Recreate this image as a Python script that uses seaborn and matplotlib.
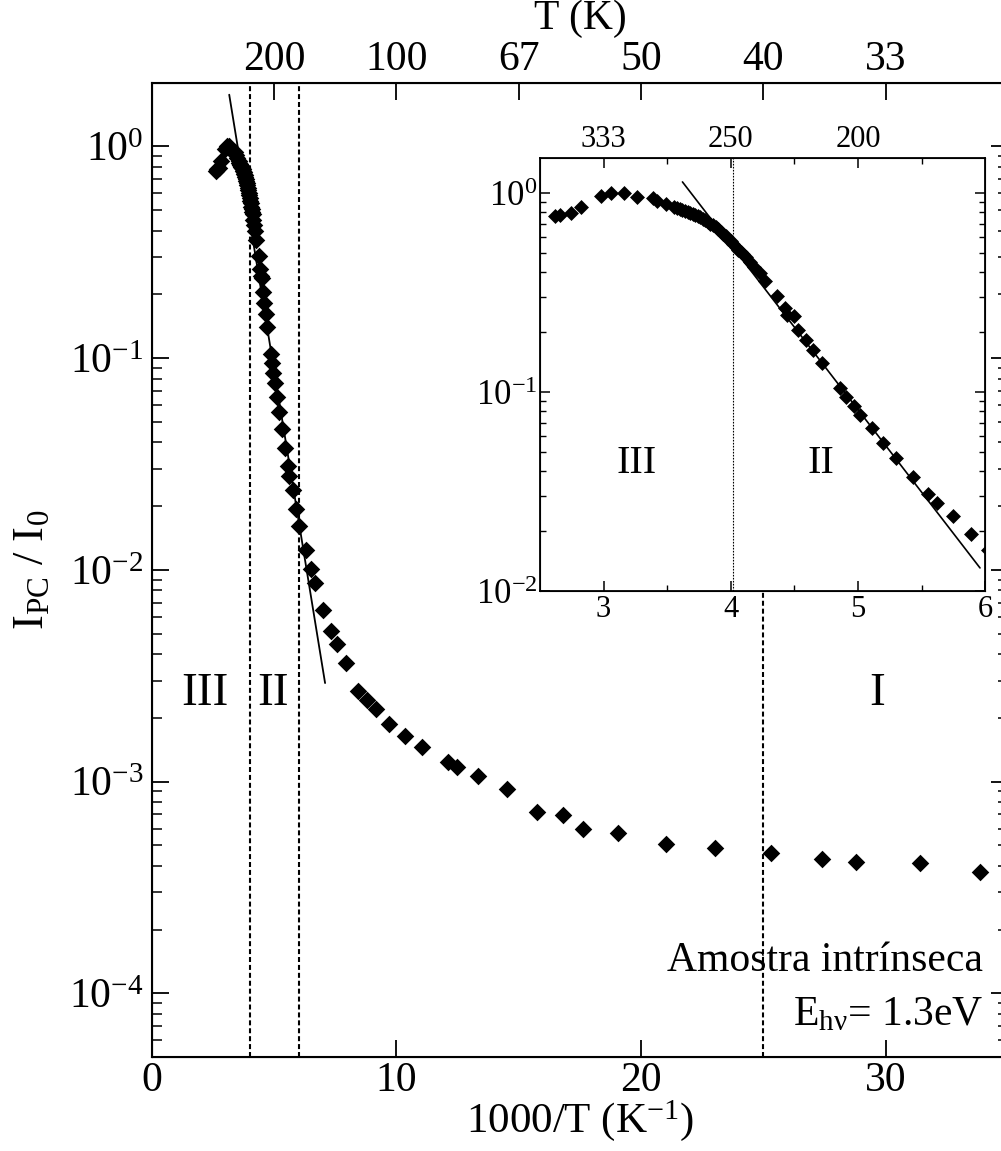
import numpy as np
import pandas as pd
import matplotlib
matplotlib.use("Agg")
import matplotlib.pyplot as plt
import seaborn as sns
from matplotlib.ticker import LogLocator, NullFormatter, FixedLocator, FixedFormatter

sns.set_style("ticks")
plt.rcParams["font.family"] = ["Liberation Serif", "DejaVu Serif"]
plt.rcParams["mathtext.fontset"] = "custom"
plt.rcParams["mathtext.rm"] = "Liberation Serif"
plt.rcParams["mathtext.it"] = "Liberation Serif:italic"
plt.rcParams["mathtext.default"] = "regular"
for key in ["text.color", "axes.labelcolor", "axes.edgecolor", "xtick.color", "ytick.color"]:
    plt.rcParams[key] = "black"

# Photocurrent vs inverse temperature (1000/T in K^-1), normalised to I_0
inv_temp = [
    2.62, 2.66, 2.74, 2.82, 2.98, 3.06, 3.16, 3.26, 3.39, 3.42, 3.49,
    3.55, 3.58, 3.60, 3.62, 3.64, 3.66, 3.68, 3.70, 3.72, 3.74, 3.76,
    3.78, 3.80, 3.82, 3.84, 3.86, 3.88, 3.90, 3.92, 3.94, 3.96, 3.98,
    4.00, 4.02, 4.04, 4.06, 4.08, 4.10, 4.12, 4.15, 4.18, 4.23, 4.27,
    4.36, 4.43, 4.44, 4.50, 4.53, 4.59, 4.65, 4.72, 4.86, 4.91, 4.97,
    5.02, 5.11, 5.20, 5.30, 5.43, 5.55, 5.62, 5.75, 5.89,
    6.02, 6.30, 6.50, 6.67, 7.01, 7.31, 7.55, 7.93, 8.44, 8.81, 9.16,
    9.71, 10.35, 11.03, 12.09, 12.49, 13.35, 14.51, 15.76, 16.82, 17.63,
    19.07, 21.01, 23.03, 25.32, 27.39, 28.79, 31.41, 33.86,
]
photocurrent = [
    0.765, 0.78, 0.79, 0.853, 0.97, 1.0, 1.0, 0.957, 0.946, 0.91, 0.883,
    0.853, 0.838, 0.827, 0.819, 0.811, 0.803, 0.796, 0.788, 0.78, 0.769, 0.757,
    0.744, 0.731, 0.717, 0.703, 0.688, 0.673, 0.658, 0.640, 0.622, 0.606, 0.588,
    0.574, 0.553, 0.538, 0.520, 0.507, 0.492, 0.478, 0.449, 0.425, 0.397, 0.36,
    0.303, 0.264, 0.245, 0.24, 0.206, 0.183, 0.162, 0.14, 0.1045, 0.0948, 0.085,
    0.0767, 0.0657, 0.0556, 0.0464, 0.0375, 0.0309, 0.0277, 0.0238, 0.0193,
    0.0161, 0.0124, 0.01005, 0.00863, 0.00646, 0.00517, 0.00445, 0.00362,
    0.00269, 0.00243, 0.00220, 0.00187, 0.00164, 0.00145, 0.00124, 0.00117,
    0.00106, 0.00092, 0.000717, 0.000692, 0.000598, 0.000574, 0.000508,
    0.000485, 0.000462, 0.000430, 0.000419, 0.000412, 0.000372,
]

# Activation fits: log10(I/I0) = intercept + slope * (1000/T)
main_fit = {"intercept": 2.485, "slope": -0.709, "start": 3.16, "end": 7.08}
inset_fit = {"intercept": 3.057, "slope": -0.829, "start": 3.62, "end": 5.96}

# Region boundaries (1000/T)
main_bounds = [4.0, 6.0, 25.0]
inset_bound = 4.02

# Temperature axis labels
main_top_ticks = [5, 10, 15, 20, 25, 30]
main_top_labels = ["200", "100", "67", "50", "40", "33"]
inset_top_ticks = [3, 4, 5]
inset_top_labels = ["333", "250", "200"]

df = pd.DataFrame({"x": inv_temp, "y": photocurrent})


def fit_frame(fit):
    xs = np.array([fit["start"], fit["end"]])
    return pd.DataFrame({"x": xs, "y": 10 ** (fit["intercept"] + fit["slope"] * xs)})


def decade_label(v, pos=None):
    return r"$10^{%d}$" % int(round(np.log10(v)))


fig = plt.figure(figsize=(10.01, 11.51), dpi=100)
ax = fig.add_axes([0.1518, 0.0817, 0.855, 0.8464])

sns.scatterplot(data=df, x="x", y="y", marker="D", s=80, color="black",
                linewidth=0, ax=ax, zorder=3)
sns.lineplot(data=fit_frame(main_fit), x="x", y="y", color="black",
             linewidth=1.3, ax=ax, zorder=4)

dash = (0, (2.4, 1.4))
for b in main_bounds[:2]:
    ax.axvline(b, color="black", linewidth=1.5, linestyle=dash, zorder=2)
ax.axvline(main_bounds[2], ymax=0.48, color="black", linewidth=1.5,
           linestyle=dash, zorder=2)

ax.set_yscale("log")
ax.set_xlim(0, 35)
ax.set_ylim(5e-5, 2.0)
ax.set_xticks([0, 10, 20, 30])
ax.yaxis.set_major_locator(FixedLocator([1e-4, 1e-3, 1e-2, 1e-1, 1e0]))
ax.yaxis.set_major_formatter(plt.FuncFormatter(decade_label))
ax.yaxis.set_minor_locator(LogLocator(base=10, subs=np.arange(2, 10)))
ax.yaxis.set_minor_formatter(NullFormatter())
ax.tick_params(axis="both", which="major", direction="in", length=12, width=1.3,
               labelsize=30, right=True, top=False, pad=6)
ax.tick_params(axis="y", which="minor", direction="in", length=7, width=1.1, right=True)
ax.tick_params(axis="x", which="major", pad=3)
for sp in ax.spines.values():
    sp.set_linewidth(1.5)
    sp.set_visible(True)

ax.set_xlabel("1000/T (K$^{-1}$)", fontsize=31, labelpad=-1)
ax.set_ylabel("I$_{PC}$ / I$_{0}$", fontsize=32, labelpad=12)

top = ax.twiny()
top.set_xlim(ax.get_xlim())
top.xaxis.set_major_locator(FixedLocator(main_top_ticks))
top.xaxis.set_major_formatter(FixedFormatter(main_top_labels))
top.tick_params(axis="x", direction="in", length=12, width=1.3, labelsize=30, pad=3)
top.set_xlabel("T (K)", fontsize=30)
top.xaxis.label.set_verticalalignment("bottom")
top.xaxis.set_label_coords(0.5, 1.046)

ax.text(2.17, 0.0026, "III", fontsize=34, ha="center", va="center")
ax.text(4.93, 0.0026, "II", fontsize=34, ha="center", va="center")
ax.text(29.64, 0.0026, "I", fontsize=34, ha="center", va="center")
ax.text(0.971, 0.088, "Amostra intrínseca", transform=ax.transAxes,
        fontsize=30, ha="right", va="baseline")
ax.text(0.971, 0.033, "E$_{hν}$= 1.3eV", transform=ax.transAxes,
        fontsize=30, ha="right", va="baseline")

# Inset: close-up of regions III and II
ins = fig.add_axes([0.5395, 0.4865, 0.4446, 0.3762])
ins.set_facecolor("white")
sns.scatterplot(data=df, x="x", y="y", marker="D", s=58, color="black",
                linewidth=0, ax=ins, zorder=3)
sns.lineplot(data=fit_frame(inset_fit), x="x", y="y", color="black",
             linewidth=1.2, ax=ins, zorder=4)
ins.axvline(inset_bound, color="black", linewidth=0.8, linestyle=(0, (1.5, 1.2)), zorder=2)
ins.set_yscale("log")
ins.set_xlim(2.5, 6.0)
ins.set_ylim(0.01, 1.5)
ins.set_xticks([3, 4, 5, 6])
ins.set_xticks([3.5, 4.5, 5.5], minor=True)
ins.yaxis.set_major_locator(FixedLocator([1e-2, 1e-1, 1e0]))
ins.yaxis.set_major_formatter(plt.FuncFormatter(decade_label))
ins.yaxis.set_minor_locator(LogLocator(base=10, subs=np.arange(2, 10)))
ins.yaxis.set_minor_formatter(NullFormatter())
ins.tick_params(axis="both", which="major", direction="in", length=7, width=1.1,
                right=True, pad=3)
ins.tick_params(axis="both", which="minor", direction="in", length=4, width=1.0,
                right=True)
ins.tick_params(axis="x", labelsize=22)
ins.tick_params(axis="y", labelsize=25, pad=2)
ins.set_xlabel("")
ins.set_ylabel("")
for sp in ins.spines.values():
    sp.set_linewidth(1.3)

ins_top = ins.twiny()
ins_top.set_xlim(ins.get_xlim())
ins_top.xaxis.set_major_locator(FixedLocator(inset_top_ticks))
ins_top.xaxis.set_major_formatter(FixedFormatter(inset_top_labels))
ins_top.set_xticks([3.5, 4.5, 5.5], minor=True)
ins_top.tick_params(axis="x", which="major", direction="in", length=7, width=1.1,
                    labelsize=22, pad=3)
ins_top.tick_params(axis="x", which="minor", direction="in", length=4, width=1.0)

ins.text(3.26, 0.044, "III", fontsize=29, ha="center", va="center")
ins.text(4.71, 0.044, "II", fontsize=29, ha="center", va="center")

fig.savefig("out.png", dpi=100)
